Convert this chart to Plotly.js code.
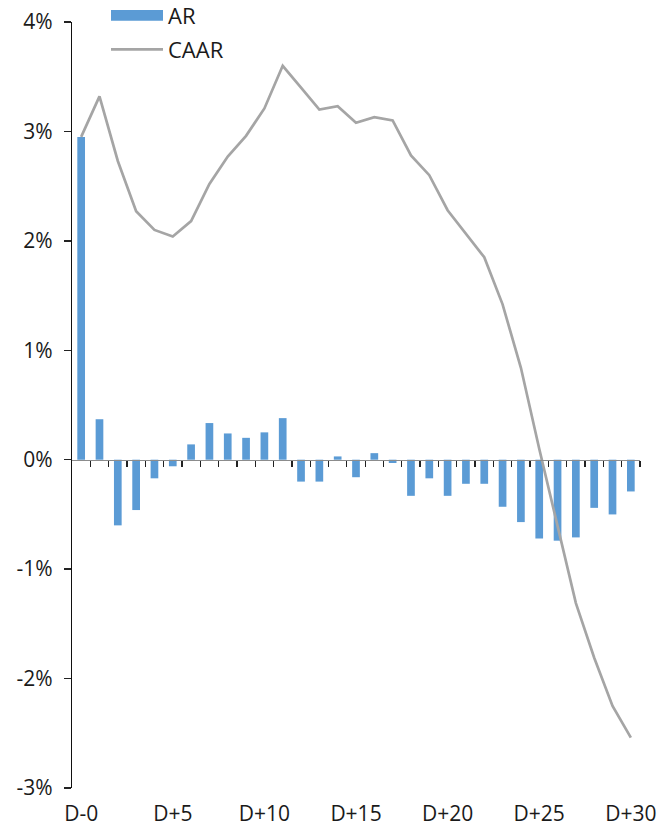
<!DOCTYPE html>
<html>
<head>
<meta charset="utf-8">
<script src="https://cdn.plot.ly/plotly-3.0.1.min.js"></script>
<style>html,body{margin:0;padding:0;background:#fff;}#chart{width:661px;height:826px;}</style>
</head>
<body>
<div id="chart"></div>
<script>
// Categories (event days)
const days = ["D-0","D+1","D+2","D+3","D+4","D+5","D+6","D+7","D+8","D+9","D+10",
  "D+11","D+12","D+13","D+14","D+15","D+16","D+17","D+18","D+19","D+20",
  "D+21","D+22","D+23","D+24","D+25","D+26","D+27","D+28","D+29","D+30"];
// AR (abnormal return, %)
const ar = [2.95, 0.37, -0.60, -0.46, -0.17, -0.06, 0.14, 0.335, 0.24, 0.20, 0.25,
  0.38, -0.20, -0.20, 0.03, -0.16, 0.06, -0.03, -0.33, -0.17, -0.33,
  -0.22, -0.22, -0.43, -0.57, -0.72, -0.74, -0.71, -0.44, -0.50, -0.29];
// CAAR (cumulative average abnormal return, %)
const caar = [2.95, 3.32, 2.73, 2.27, 2.10, 2.04, 2.18, 2.52, 2.77, 2.96, 3.21,
  3.60, 3.40, 3.20, 3.23, 3.08, 3.13, 3.10, 2.78, 2.60, 2.28,
  2.07, 1.85, 1.42, 0.84, 0.10, -0.62, -1.31, -1.81, -2.25, -2.54];
// Tick labels
const xTickLabels = ["D-0","D+5","D+10","D+15","D+20","D+25","D+30"];
const yTicks = [-3, -2, -1, 0, 1, 2, 3, 4];
const yTickLabels = ["-3%", "-2%", "-1%", "0%", "1%", "2%", "3%", "4%"];
const seriesNames = ["AR", "CAAR"];

const barColor = "#5B9BD5";
const lineColor = "#A5A5A5";
const textColor = "#1a1a1a";
const fontFam = "'Open Sans', 'Noto Sans', sans-serif";
const fs = 21;
const legendFs = 22;

// boundaries between categories for the ticks on the zero line
const boundaryTicks = days.map((d, i) => i + 0.5);

const traces = [
  {type: "bar", x: days, y: ar, name: seriesNames[0], marker: {color: barColor}, width: 0.42, hoverinfo: "x+y"},
  {type: "scatter", mode: "lines", x: days, y: caar, name: seriesNames[1], line: {color: lineColor, width: 2.7}, hoverinfo: "x+y"},
  // helper (empty) trace so that the zero-line axis is drawn
  {type: "scatter", mode: "markers", x: [], y: [], xaxis: "x2", yaxis: "y", showlegend: false, hoverinfo: "skip"}
];

// plot area in pixels: x 72..640, y 22..788
const L = 72, R = 640, T = 22, B = 788;
const px = v => (v - L) / (R - L);
const py = v => (B - v) / (B - T);

const layout = {
  width: 661, height: 826,
  margin: {l: L, r: 661 - R, t: T, b: 826 - B, pad: 0},
  paper_bgcolor: "#fff", plot_bgcolor: "#fff",
  showlegend: false,
  font: {family: fontFam, color: textColor, size: fs},
  xaxis: {
    type: "category", categoryarray: days, range: [-0.5, 30.5],
    tickvals: xTickLabels, ticktext: xTickLabels,
    showline: false, ticks: "", showgrid: false, zeroline: false,
    tickfont: {family: fontFam, size: fs, color: textColor},
    ticklabelstandoff: 11, fixedrange: true
  },
  xaxis2: {
    overlaying: "x", anchor: "free", position: 3 / 7, side: "bottom",
    type: "linear", range: [-0.5, 30.5],
    tickvals: boundaryTicks, showticklabels: false,
    ticks: "outside", ticklen: 6, tickwidth: 1.3, tickcolor: "#222",
    showline: true, linecolor: "#8c8c8c", linewidth: 1.6,
    showgrid: false, zeroline: false, fixedrange: true
  },
  yaxis: {
    range: [-3, 4], tickvals: yTicks, ticktext: yTickLabels,
    ticks: "outside", ticklen: 7, tickwidth: 1.3, tickcolor: "#222",
    showline: true, linecolor: "#111", linewidth: 1.3,
    showgrid: false, zeroline: false,
    tickfont: {family: fontFam, size: fs, color: textColor},
    ticklabelstandoff: 7, fixedrange: true
  },
  shapes: [
    {type: "rect", xref: "paper", yref: "paper", x0: px(111), x1: px(163), y0: py(20.7), y1: py(10), fillcolor: barColor, line: {width: 0}},
    {type: "line", xref: "paper", yref: "paper", x0: px(111), x1: px(163), y0: py(49.3), y1: py(49.3), line: {color: lineColor, width: 2.8}}
  ],
  annotations: [
    {xref: "paper", yref: "paper", x: px(166), y: py(15), xanchor: "left", yanchor: "middle", text: seriesNames[0], showarrow: false, font: {family: fontFam, size: legendFs, color: textColor}},
    {xref: "paper", yref: "paper", x: px(166), y: py(49), xanchor: "left", yanchor: "middle", text: seriesNames[1], showarrow: false, font: {family: fontFam, size: legendFs, color: textColor}}
  ]
};

Plotly.newPlot("chart", traces, layout, {displayModeBar: false, staticPlot: true});
</script>
</body>
</html>
